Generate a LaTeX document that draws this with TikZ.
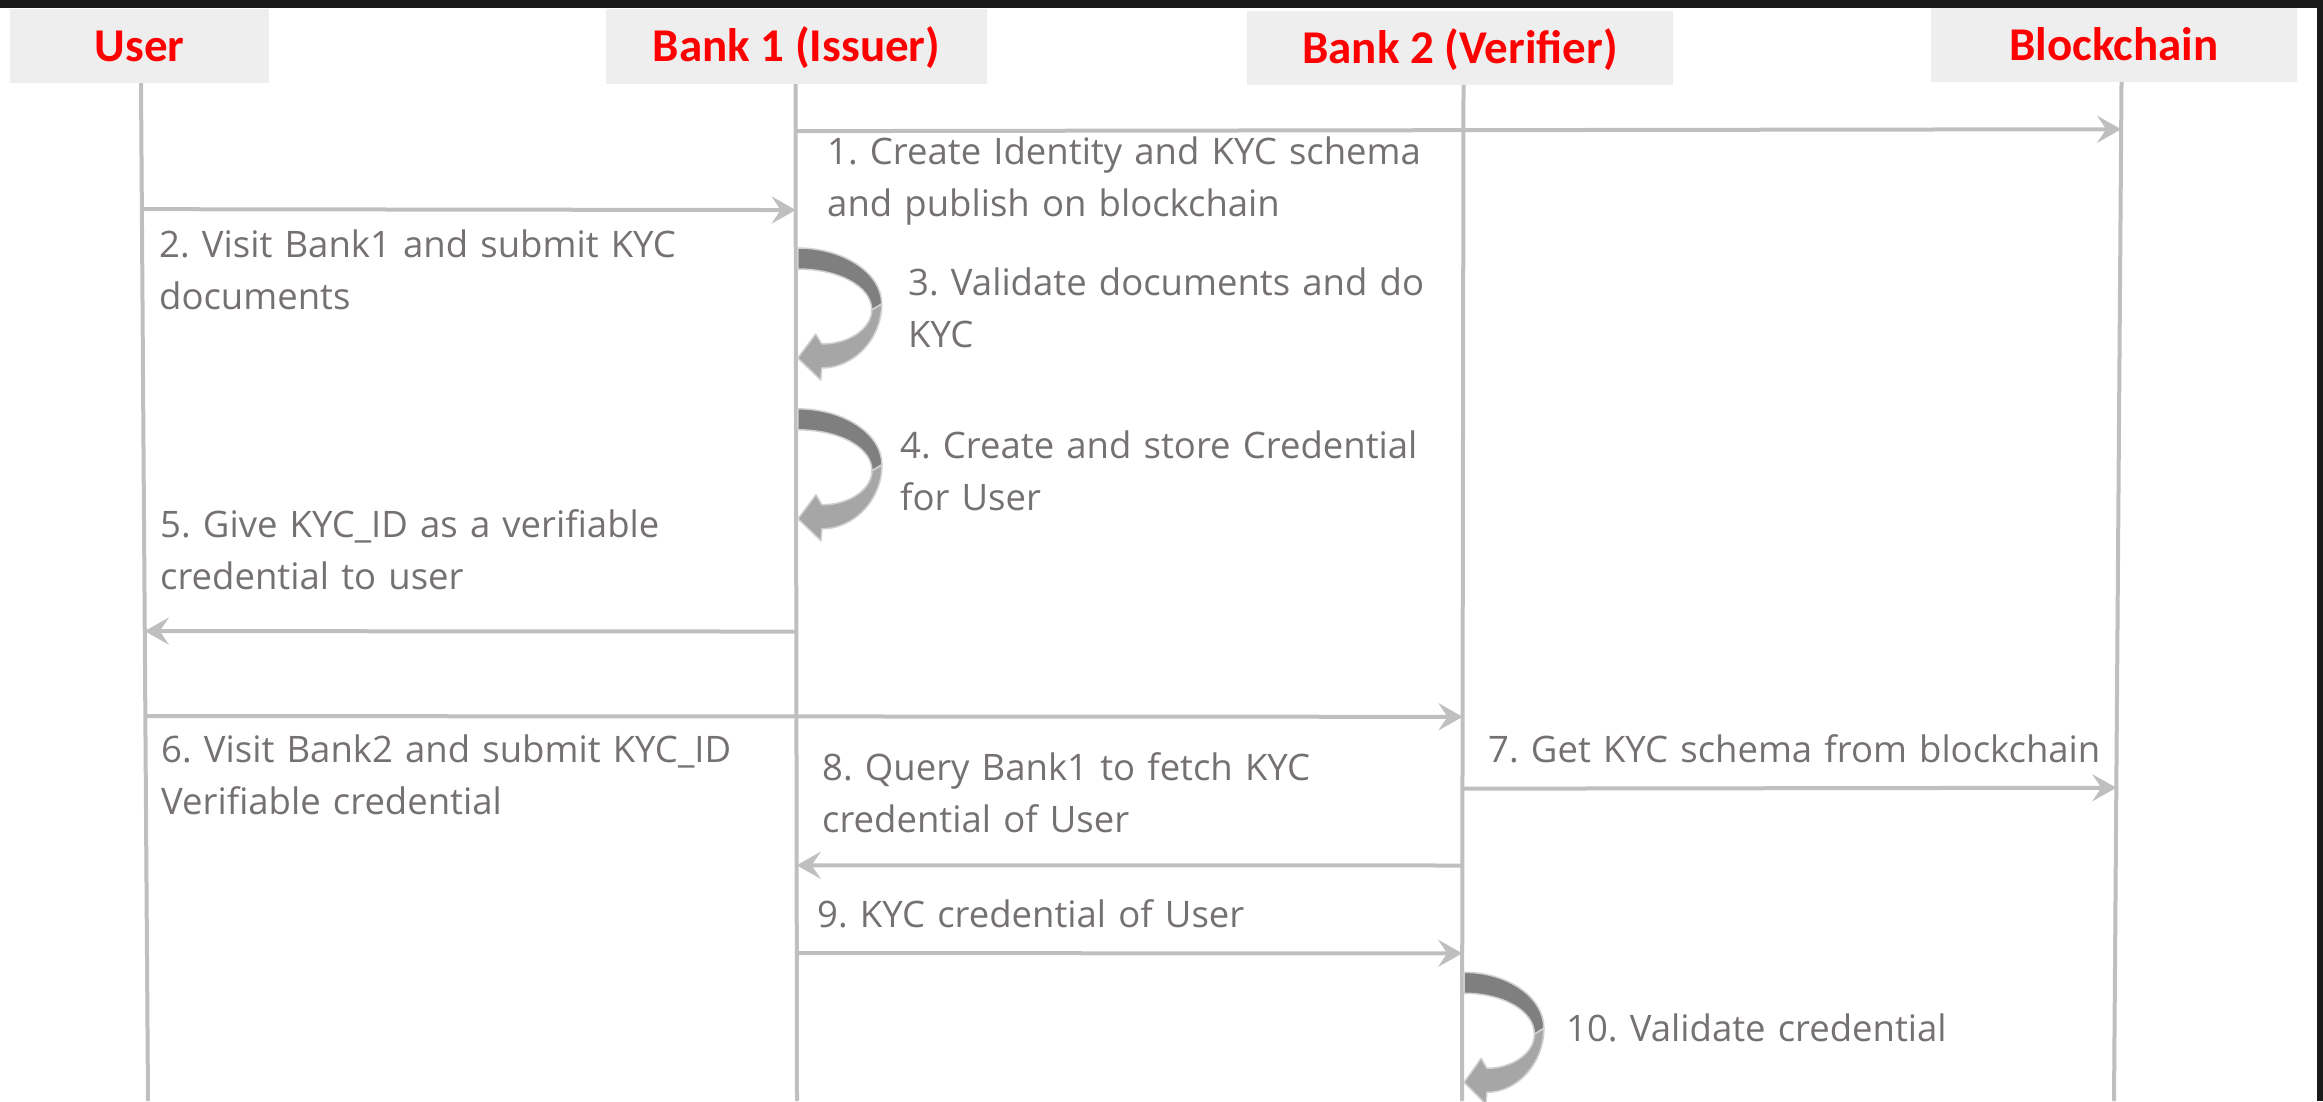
\documentclass[tikz,border=0pt]{standalone}
\usepackage{fontspec}
\setmainfont{Open Sans}
\newfontfamily\headfont{Carlito}
\usetikzlibrary{calc,arrows.meta}
\frenchspacing

\definecolor{framebk}{HTML}{1A1A1A}
\definecolor{headbg}{HTML}{EEEEEE}
\definecolor{headred}{HTML}{FF0000}
\definecolor{lifegray}{HTML}{BFBFBF}
\definecolor{labelgray}{HTML}{767171}
\definecolor{loopdark}{HTML}{7F7F7F}
\definecolor{looplight}{HTML}{A6A6A6}
\definecolor{loopedge}{HTML}{D0D0D0}

% point on lifeline #1 at height #2 (lifelines run from y=83 to y=1101)
\newcommand\onlife[2]{($(#1T)!{(#2-83)/1018}!(#1B)$)}

\begin{document}
\begin{tikzpicture}[x=1pt,y=-1pt,
  header/.style={fill=headbg, inner sep=0pt, text height=30pt, text depth=0pt,
    font=\headfont\bfseries\fontsize{47}{47}\selectfont, text=headred},
  lifeline/.style={draw=lifegray, line width=4pt},
  msg/.style={draw=lifegray, line width=4pt,
    -{Stealth[length=24pt,width=27pt,inset=9pt]}},
  msglabel/.style={anchor=base west, inner sep=0pt, text width=800pt,
    align=left, text=labelgray, font=\fontsize{36.5}{52}\selectfont},
  loopband/.style={draw=loopedge, line width=1.5pt, line join=round},
  selfloop/.pic={
    % back half of the curved arrow
    \filldraw[loopband, fill=loopdark]
      (2,0) .. controls (48,0) and (86,25) .. (86,56) -- (76,62)
      .. controls (76,38) and (42,21) .. (2,21) -- cycle;
    % front half with the arrow head
    \filldraw[loopband, fill=looplight]
      (86,56) .. controls (86,90) and (59,120) .. (26,120) -- (25,132)
      -- (2,110) -- (20,86) -- (26,96)
      .. controls (54,96) and (76,80) .. (76,62) -- cycle;
  }
]
\useasboundingbox (0,0) rectangle (2323,1101);
\fill[white] (0,0) rectangle (2323,1101);
\fill[framebk] (0,0) rectangle (2323,8);
\fill[framebk] (2317,0) rectangle (2323,1101);

% participants
\node[header, minimum width=259pt, minimum height=74pt] (user) at (139.5,46) {User};
\node[header, minimum width=381pt, minimum height=75pt] (bank1) at (796.5,46.5) {Bank 1 (Issuer)};
\node[header, minimum width=426pt, minimum height=74pt] (bank2) at (1460,48) {Bank 2 (Verifier)};
\node[header, minimum width=366pt, minimum height=74pt] (chain) at (2114,45) {Blockchain};

% lifelines
\coordinate (uT) at ([xshift=1.5pt]user.south);
\coordinate (uB) at (148,1101);
\coordinate (b1T) at ([xshift=-1pt]bank1.south);
\coordinate (b1B) at (797,1101);
\coordinate (b2T) at ([xshift=3.5pt]bank2.south);
\coordinate (b2B) at (1462,1101);
\coordinate (bcT) at ([xshift=7.5pt]chain.south);
\coordinate (bcB) at (2114,1101);
\draw[lifeline] (uT) -- (uB);
\draw[lifeline] (b1T) -- (b1B);
\draw[lifeline] (b2T) -- (b2B);
\draw[lifeline] (bcT) -- (bcB);

% messages
\draw[msg] \onlife{b1}{130} -- \onlife{bc}{130};
\draw[msg] \onlife{u}{209} -- \onlife{b1}{209};
\draw[msg] \onlife{b1}{631} -- \onlife{u}{631};
\draw[msg] \onlife{u}{716} -- \onlife{b2}{716};
\draw[msg] \onlife{b2}{788} -- \onlife{bc}{788};
\draw[msg] \onlife{b2}{865} -- \onlife{b1}{865};
\draw[msg] \onlife{b1}{953} -- \onlife{b2}{953};

% self calls
\pic at \onlife{b1}{247} {selfloop};
\pic at \onlife{b1}{408} {selfloop};
\pic[xscale=0.95] at \onlife{b2}{972} {selfloop};

% labels
\node[msglabel] (l1) at (827,164) {1. Create Identity and KYC schema\\and publish on blockchain};
\node[msglabel] (l2) at (159,257) {2. Visit Bank1 and submit KYC\\documents};
\node[msglabel] (l3) at (908,295) {3. Validate documents and do\\KYC};
\node[msglabel] (l4) at (900,458) {4. Create and store Credential\\for User};
\node[msglabel] (l5) at (160,537) {5. Give KYC\_ID as a verifiable\\credential to user};
\node[msglabel] (l6) at (161,762) {6. Visit Bank2 and submit KYC\_ID\\Verifiable credential};
\node[msglabel] (l7) at (1488,762) {7. Get KYC schema from blockchain};
\node[msglabel] (l8) at (822,780) {8. Query Bank1 to fetch KYC\\credential of User};
\node[msglabel] (l9) at (817,927) {9. KYC credential of User};
\node[msglabel] (l10) at (1566,1041) {10. Validate credential};
\end{tikzpicture}
\end{document}
